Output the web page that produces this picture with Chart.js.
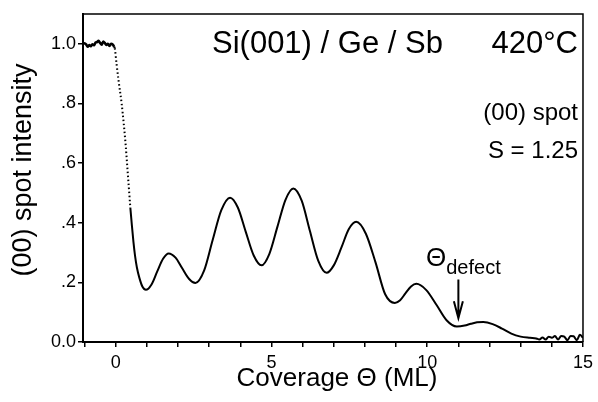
<!DOCTYPE html>
<html>
<head>
<meta charset="utf-8">
<script src="https://cdn.jsdelivr.net/npm/chart.js@4"></script>
<style>
  html, body { margin: 0; padding: 0; background: #fff; }
  #wrap { width: 598px; height: 402px; }
</style>
</head>
<body>
<div id="wrap"><canvas id="rheedChart" width="598" height="402"></canvas></div>
<script>
// coverage (ML) and (00) spot intensity
const coverage = [
  -1.05, -1.0, -0.95, -0.9, -0.85, -0.8, -0.75, -0.7, -0.65, -0.6, -0.55,
  -0.5, -0.45, -0.4, -0.35, -0.3, -0.25, -0.2, -0.15, -0.1, -0.05,
  -0.03, 0.03, 0.1, 0.19, 0.26, 0.32, 0.37, 0.42, 0.47, 0.52, 0.57, 0.62, 0.68, 0.76, 0.86,
  0.97, 1.15, 1.33, 1.52, 1.7, 1.92, 2.13, 2.35, 2.56,
  2.84, 3.11, 3.39, 3.67, 3.92, 4.17, 4.43, 4.68,
  4.93, 5.19, 5.45, 5.7, 5.97, 6.23, 6.5, 6.77,
  7.0, 7.25, 7.48, 7.72, 8.03, 8.34, 8.65, 8.96,
  9.13, 9.3, 9.48, 9.65, 9.97, 10.3, 10.62, 10.95,
  11.2, 11.4, 11.6, 11.8, 12.1, 12.4, 12.7, 13.0, 13.3, 13.5,
  13.6, 13.7, 13.8, 13.9, 14.0, 14.1, 14.2, 14.3, 14.4, 14.5, 14.6, 14.7, 14.8, 14.9, 15.0
];
const intensity = [
  1.0, 1.002, 0.998, 0.99, 0.996, 0.992, 0.998, 0.995, 1.004, 1.006, 1.01,
  1.003, 0.997, 1.008, 1.003, 0.996, 1.0, 0.993, 1.0, 0.998, 0.99,
  0.985, 0.93, 0.87, 0.8, 0.73, 0.66, 0.59, 0.52, 0.45, 0.39, 0.335, 0.29, 0.25, 0.215, 0.185,
  0.175, 0.193, 0.236, 0.279, 0.297, 0.283, 0.248, 0.212, 0.198,
  0.24, 0.341, 0.442, 0.484, 0.451, 0.371, 0.29, 0.257,
  0.295, 0.386, 0.477, 0.515, 0.474, 0.374, 0.273, 0.232,
  0.257, 0.318, 0.378, 0.403, 0.363, 0.267, 0.16, 0.131,
  0.14, 0.163, 0.186, 0.195, 0.174, 0.124, 0.073, 0.052,
  0.055, 0.061, 0.066, 0.067, 0.06, 0.045, 0.028, 0.018, 0.014, 0.012,
  0.008, 0.015, 0.008, 0.018, 0.014, 0.02, 0.008, 0.02, 0.018, 0.006, 0.02, 0.019, 0.006, 0.024, 0.014
];

const xTickValues = [-1, 0, 1, 2, 3, 4, 5, 6, 7, 8, 9, 10, 11, 12, 13, 14, 15];
const xLabeled = [0, 5, 10, 15];
const yTickValues = [0, 0.2, 0.4, 0.6, 0.8, 1.0];
const yTickLabels = ['0.0', '.2', '.4', '.6', '.8', '1.0'];

// deposition start: sparse, dotted part of the curve
const dropStart = -0.03, dropEnd = 0.47;
// Θ_defect arrow
const defectX = 11.0, arrowTop = 0.21, arrowTip = 0.08;

const FONT = '"Liberation Sans", Arial, Helvetica, sans-serif';

const points = coverage.map((x, i) => ({ x: x, y: intensity[i] }));

const textPlugin = {
  id: 'figureText',
  afterDatasetsDraw(chart) {
    const ctx = chart.ctx;
    const a = chart.chartArea;
    const xs = chart.scales.x, ys = chart.scales.y;
    ctx.save();
    // frame top + right
    ctx.strokeStyle = '#000';
    ctx.lineWidth = 1.5;
    ctx.beginPath();
    ctx.moveTo(a.left, a.top);
    ctx.lineTo(a.right, a.top);
    ctx.lineTo(a.right, a.bottom);
    ctx.stroke();

    ctx.fillStyle = '#000';
    ctx.textBaseline = 'alphabetic';
    ctx.font = '31px ' + FONT;
    ctx.textAlign = 'left';
    ctx.fillText('Si(001) / Ge / Sb', 212, 53);
    ctx.textAlign = 'right';
    ctx.fillText('420°C', 578, 53);

    ctx.font = '24px ' + FONT;
    ctx.fillText('(00) spot', 578, 120);
    ctx.fillText('S = 1.25', 578, 158);

    // Θ_defect
    ctx.textAlign = 'left';
    ctx.font = '26px ' + FONT;
    ctx.fillText('Θ', 426, 266);
    const w = ctx.measureText('Θ').width;
    ctx.font = '20px ' + FONT;
    ctx.fillText('defect', 426 + w, 274);

    const ax = xs.getPixelForValue(defectX);
    const ay0 = ys.getPixelForValue(arrowTop);
    const ay1 = ys.getPixelForValue(arrowTip);
    ctx.lineWidth = 2;
    ctx.beginPath();
    ctx.moveTo(ax, ay0);
    ctx.lineTo(ax, ay1);
    ctx.moveTo(ax - 4.5, ay1 - 17);
    ctx.lineTo(ax, ay1);
    ctx.lineTo(ax + 4.5, ay1 - 17);
    ctx.stroke();

    // axis titles
    ctx.font = '26px ' + FONT;
    ctx.textAlign = 'center';
    ctx.fillText('Coverage Θ (ML)', 337, 386);
    ctx.translate(31, 170);
    ctx.rotate(-Math.PI / 2);
    ctx.font = '27px ' + FONT;
    ctx.fillText('(00) spot intensity', 0, 0);
    ctx.restore();
  }
};

new Chart(document.getElementById('rheedChart'), {
  type: 'scatter',
  data: {
    datasets: [{
      data: points,
      showLine: true,
      borderColor: '#000',
      borderWidth: 2,
      pointRadius: 0,
      cubicInterpolationMode: 'monotone',
      segment: {
        borderDash: c => (c.p0.parsed.x >= dropStart && c.p1.parsed.x <= dropEnd) ? [1.5, 2.5] : undefined,
        borderWidth: c => c.p1.parsed.x < -0.03 ? 2.6 : undefined
      }
    }]
  },
  options: {
    responsive: false,
    animation: false,
    layout: { padding: { top: 14, right: 6, left: 0, bottom: 0 } },
    plugins: { legend: { display: false }, tooltip: { enabled: false } },
    scales: {
      x: {
        type: 'linear',
        min: -1.05,
        max: 15,
        afterBuildTicks: s => { s.ticks = xTickValues.map(v => ({ value: v })); },
        afterFit: s => { s.height = 60; },
        ticks: {
          autoSkip: false,
          maxRotation: 0,
          padding: 5,
          color: '#000',
          font: { family: FONT, size: 18 },
          callback: v => xLabeled.includes(v) ? String(v) : ''
        },
        grid: { drawOnChartArea: false, drawTicks: true, tickLength: 5, color: '#000', lineWidth: 1.5 },
        border: { display: true, color: '#000', width: 2 }
      },
      y: {
        type: 'linear',
        min: 0,
        max: 1.1,
        afterBuildTicks: s => { s.ticks = yTickValues.map(v => ({ value: v })); },
        afterFit: s => { s.width = 83; },
        ticks: {
          padding: 2,
          color: '#000',
          font: { family: FONT, size: 18 },
          callback: v => {
            const i = yTickValues.findIndex(t => Math.abs(t - v) < 1e-9);
            return i >= 0 ? yTickLabels[i] : '';
          }
        },
        grid: { drawOnChartArea: false, drawTicks: true, tickLength: 5, color: '#000', lineWidth: 1.5 },
        border: { display: true, color: '#000', width: 2 }
      }
    }
  },
  plugins: [textPlugin]
});
</script>
</body>
</html>
